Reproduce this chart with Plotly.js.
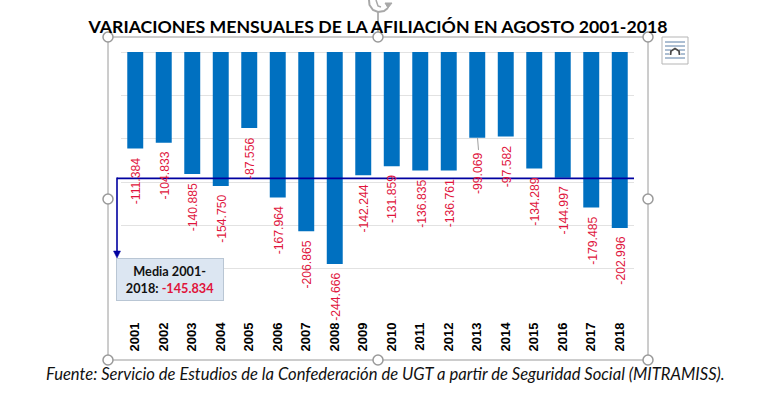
<!DOCTYPE html>
<html>
<head>
<meta charset="utf-8">
<script src="https://cdn.plot.ly/plotly-3.0.1.min.js"></script>
<style>html,body{margin:0;padding:0;background:#fff}#c{width:775px;height:403px}</style>
</head>
<body>
<div id="c"></div>
<script>
const years = ["2001","2002","2003","2004","2005","2006","2007","2008","2009","2010","2011","2012","2013","2014","2015","2016","2017","2018"];
const values = [-111384,-104833,-140885,-154750,-87556,-167964,-206865,-244666,-142244,-131859,-136835,-136761,-99069,-97582,-134289,-144997,-179485,-202996];
const labels = ["-111.384","-104.833","-140.885","-154.750","-87.556","-167.964","-206.865","-244.666","-142.244","-131.859","-136.835","-136.761","-99.069","-97.582","-134.289","-144.997","-179.485","-202.996"];
const meanValue = -145834;
const meanLabel = "-145.834";
const titleText = "VARIACIONES MENSUALES DE LA AFILIACIÓN EN AGOSTO 2001-2018";
const sourceText = "Fuente: Servicio de Estudios de la Confederación de UGT a partir de Seguridad Social (MITRAMISS).";

const W = 775, H = 403;
const L = 121, R = 634, T = 52, B = 312;
const px = x => (x - L) / (R - L);
const py = y => (B - y) / (B - T);
const red = "#e0143c", navy = "#0000a0", grey = "#9a9a9a";

function rect(x0, y0, x1, y1, fill, line, width) {
  return {type:"rect", xref:"paper", yref:"paper", x0:px(x0), x1:px(x1), y0:py(y0), y1:py(y1),
    fillcolor:fill, line:{color:line, width:width===undefined?1:width}, layer:"above"};
}
function seg(x0, y0, x1, y1, color, width) {
  return {type:"line", xref:"paper", yref:"paper", x0:px(x0), x1:px(x1), y0:py(y0), y1:py(y1),
    line:{color:color, width:width}, layer:"above"};
}
function handle(cx, cy) {
  return {type:"circle", xref:"paper", yref:"paper", x0:px(cx-5), x1:px(cx+5), y0:py(cy-5), y1:py(cy+5),
    fillcolor:"#fff", line:{color:grey, width:1.5}, layer:"above"};
}
function poly(points, closed, fill, color, width) {
  const d = points.map((p, i) => (i ? "L " : "M ") + px(p[0]) + " " + py(p[1])).join(" ") + (closed ? " Z" : "");
  return {type:"path", xref:"paper", yref:"paper", path:d, fillcolor:fill, line:{color:color, width:width}, layer:"above"};
}
const none = "rgba(0,0,0,0)";

const shapes = [
  rect(108, 37, 648, 360, none, grey, 1),
  {type:"line", xref:"paper", yref:"y", x0:px(117), x1:1, y0:meanValue, y1:meanValue, line:{color:navy, width:1.6}, layer:"above"},
  seg(117, 177.5, 117, 252, navy, 1.6),
  poly([[113.5,251],[120.5,251],[117,258]], true, navy, navy, 0.5),
  seg(378, 12, 378, 32, grey, 1.5),
  handle(108,37), handle(378,37), handle(648,37),
  handle(108,199), handle(648,199),
  handle(108,360), handle(378,360), handle(648,360),
  // rotate handle
  poly([[369,0],[369.5,5],[373,10],[378,12],[384,11],[388,8]], false, none, "#a8a8a8", 2),
  poly([[385,3],[392,3],[388,8]], true, "#a8a8a8", "#a8a8a8", 1),
  poly([[376,0],[378,6],[381,7]], false, none, "#a8a8a8", 1.5),
  // layout-options icon
  rect(662, 37, 688, 64, "#fff", "#b5b5b5", 1),
  seg(665, 42, 685, 42, "#5b7fa6", 1),
  seg(665, 46, 685, 46, "#5b7fa6", 1),
  seg(665, 50, 671, 50, "#5b7fa6", 1),
  seg(679, 50, 685, 50, "#5b7fa6", 1),
  seg(665, 54, 669, 54, "#5b7fa6", 1),
  seg(681, 54, 685, 54, "#5b7fa6", 1),
  seg(665, 58, 685, 58, "#5b7fa6", 1),
  poly([[670.5,55],[671,51],[675,48.5],[679,51],[679.5,55]], false, none, "#4a4a4a", 1.8)
];

const annotations = years.map((yr, i) => {
  const leader = yr === "2013";
  return {
    x: i, y: values[i], xref:"x", yref:"y", text: labels[i], textangle:-90,
    showarrow:false, xanchor:"center", yanchor:"top", yshift: leader ? -12 : -7, xshift:1,
    font:{family:"Liberation Sans, Arial, sans-serif", size:12.2, color:red}
  };
});
annotations.push({
  xref:"paper", yref:"paper", x:px(170), y:py(279.5), xanchor:"center", yanchor:"middle", showarrow:false,
  width:106, height:41, align:"center",
  text:`<b>Media 2001-<br>2018: <span style="color:${red}">${meanLabel}</span></b>`,
  bgcolor:"#dce6f2", bordercolor:"#b9c6d4", borderwidth:1, borderpad:0,
  font:{family:"Lato, sans-serif", size:12.7, color:"#111"}
});
annotations.push({
  xref:"paper", yref:"paper", x:px(385), y:py(374), xanchor:"center", yanchor:"middle", showarrow:false,
  text:`<i>${sourceText}</i>`, font:{family:"Lato, sans-serif", size:16.6, color:"#111"}
});
// leader line for the 2013 label
shapes.push({type:"line", xref:"paper", yref:"y", x0:px(477.5), x1:px(478.5), y0:values[12], y1:-113000, line:{color:"#a0a0a0", width:1}, layer:"above"});

Plotly.newPlot("c", [{
  type:"bar", x:years, y:values, marker:{color:"#0070c0"}, width:0.56, hoverinfo:"x+y"
}], {
  width:W, height:H, paper_bgcolor:"#fff", plot_bgcolor:"#fff", showlegend:false,
  margin:{l:L, r:W-R, t:T, b:H-B, pad:0},
  title:{text:`<b>${titleText}</b>`, x:(88+668)/2/W, xanchor:"center", y:1-27/H, yanchor:"middle",
    font:{family:"Lato, sans-serif", size:17.7, color:"#000"}},
  xaxis:{type:"category", range:[-0.5,17.5], tickangle:-90, ticks:"", showgrid:false, zeroline:false, showline:false,
    ticklabelstandoff:7,
    tickfont:{family:"Liberation Sans, Arial, sans-serif", size:13, color:"#000", weight:700}, automargin:false},
  yaxis:{range:[-300000,0], dtick:50000, showticklabels:false, ticks:"", gridcolor:"#e2e2e2", gridwidth:1, zeroline:true, zerolinecolor:"#e2e2e2", showline:false, automargin:false},
  shapes, annotations
}, {displayModeBar:false, staticPlot:true});
</script>
</body>
</html>
